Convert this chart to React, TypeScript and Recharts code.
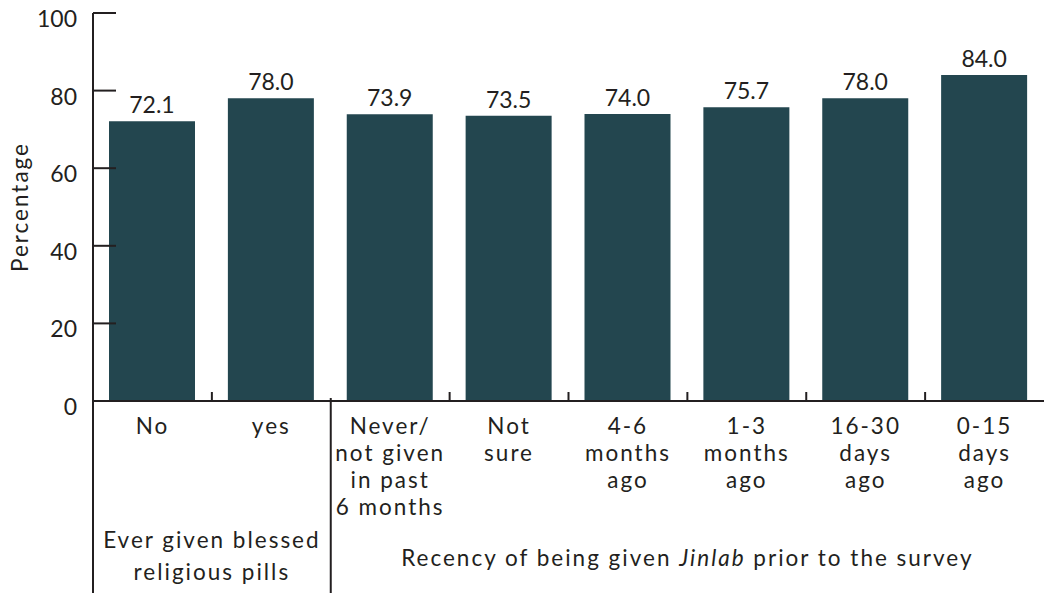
import { BarChart, Bar, XAxis, YAxis, LabelList } from "recharts";

// Percentages per group, left block = "ever given", right block = recency of Jinlab
const categories = [
  "No",
  "yes",
  "Never/\nnot given\nin past\n6 months",
  "Not\nsure",
  "4-6\nmonths\nago",
  "1-3\nmonths\nago",
  "16-30\ndays\nago",
  "0-15\ndays\nago",
];
const percentages = [72.1, 78.0, 73.9, 73.5, 74.0, 75.7, 78.0, 84.0];
const yTicks = [0, 20, 40, 60, 80, 100];
const everGivenTitle = ["Ever given blessed", "religious pills"];
const recencyTitle = ["Recency of being given ", "Jinlab", " prior to the survey"];

const CHART_W = 1044;
const CHART_H = 593;
const Y_AXIS_W = 93;
const X_AXIS_H = 192;
const PLOT_W = CHART_W - Y_AXIS_W;
const INK = "#231f20";
const BAR = "#23464f";
const FONT = "Lato, 'Open Sans', sans-serif";
const FS = 23;
const TEXT_FS = 22.5;
const SPACING = 2;
const LINE_H = 27;

const data = categories.map((name, i) => ({ name, value: percentages[i] }));

const wordStyle = {
  fontSize: TEXT_FS,
  fontFamily: FONT,
  fill: INK,
  letterSpacing: SPACING,
};

function ValueTick(props: any) {
  const { x, y, payload } = props;
  const axisX = x + 16;
  return (
    <g>
      <line x1={axisX} x2={axisX + 23} y1={y} y2={y} stroke={INK} strokeWidth={2} />
      <text x={x} y={y + 14} textAnchor="end" fontSize={FS} fontFamily={FONT} fill={INK}>
        {payload.value}
      </text>
    </g>
  );
}

function CategoryTick(props: any) {
  const { x, y, payload, index } = props;
  const band = PLOT_W / categories.length;
  const left = x - band / 2;
  const axisStart = x - band * (index + 0.5);
  const lines = String(payload.value).split("\n");
  return (
    <g>
      {lines.map((l, i) => (
        <text key={i} x={x} y={y + 33 + i * LINE_H} textAnchor="middle" style={wordStyle}>
          {l}
        </text>
      ))}
      {index === 0 && (
        <>
          <line x1={left} x2={left} y1={y} y2={CHART_H} stroke={INK} strokeWidth={2} />
          {everGivenTitle.map((l, i) => (
            <text key={i} x={x + band / 2} y={548 + i * 32} textAnchor="middle" style={wordStyle}>
              {l}
            </text>
          ))}
        </>
      )}
      {index === 2 && (
        <>
          <line x1={left} x2={left} y1={y - 3} y2={CHART_H} stroke={INK} strokeWidth={2} />
          <text x={(left + axisStart + PLOT_W) / 2} y={566} textAnchor="middle" style={wordStyle}>
            <tspan>{recencyTitle[0]}</tspan>
            <tspan fontStyle="italic">{recencyTitle[1]}</tspan>
            <tspan>{recencyTitle[2]}</tspan>
          </text>
        </>
      )}
      {index > 0 && index !== 2 && (
        <line x1={left} x2={left} y1={y} y2={y - 9} stroke={INK} strokeWidth={2} />
      )}
    </g>
  );
}

function AxisTitle(props: any) {
  const vb = props.viewBox || { x: 0, y: 13, width: Y_AXIS_W, height: 388 };
  const cx = vb.x + 28;
  const cy = vb.y + vb.height / 2;
  return (
    <text
      x={cx}
      y={cy}
      transform={`rotate(-90, ${cx}, ${cy})`}
      textAnchor="middle"
      style={wordStyle}
    >
      Percentage
    </text>
  );
}

function BarValue(props: any) {
  const { x, y, width, value } = props;
  return (
    <text x={x + width / 2} y={y - 8} textAnchor="middle" fontSize={FS} fontFamily={FONT} fill={INK}>
      {Number(value).toFixed(1)}
    </text>
  );
}

export default function App() {
  return (
    <div style={{ position: "absolute", left: 0, top: 0, background: "#fff" }}>
      <BarChart
        width={CHART_W}
        height={CHART_H}
        data={data}
        margin={{ top: 13, right: 0, bottom: 0, left: 0 }}
      >
        <XAxis
          dataKey="name"
          height={X_AXIS_H}
          interval={0}
          axisLine={{ stroke: INK, strokeWidth: 2 }}
          tickLine={false}
          tickSize={0}
          tickMargin={0}
          tick={<CategoryTick />}
        />
        <YAxis
          width={Y_AXIS_W}
          domain={[0, 100]}
          ticks={yTicks}
          interval={0}
          axisLine={{ stroke: INK, strokeWidth: 2 }}
          tickLine={false}
          tickSize={0}
          tickMargin={16}
          tick={<ValueTick />}
          label={<AxisTitle />}
        />
        <Bar dataKey="value" fill={BAR} barSize={86} isAnimationActive={false}>
          <LabelList dataKey="value" content={<BarValue />} />
        </Bar>
      </BarChart>
    </div>
  );
}
